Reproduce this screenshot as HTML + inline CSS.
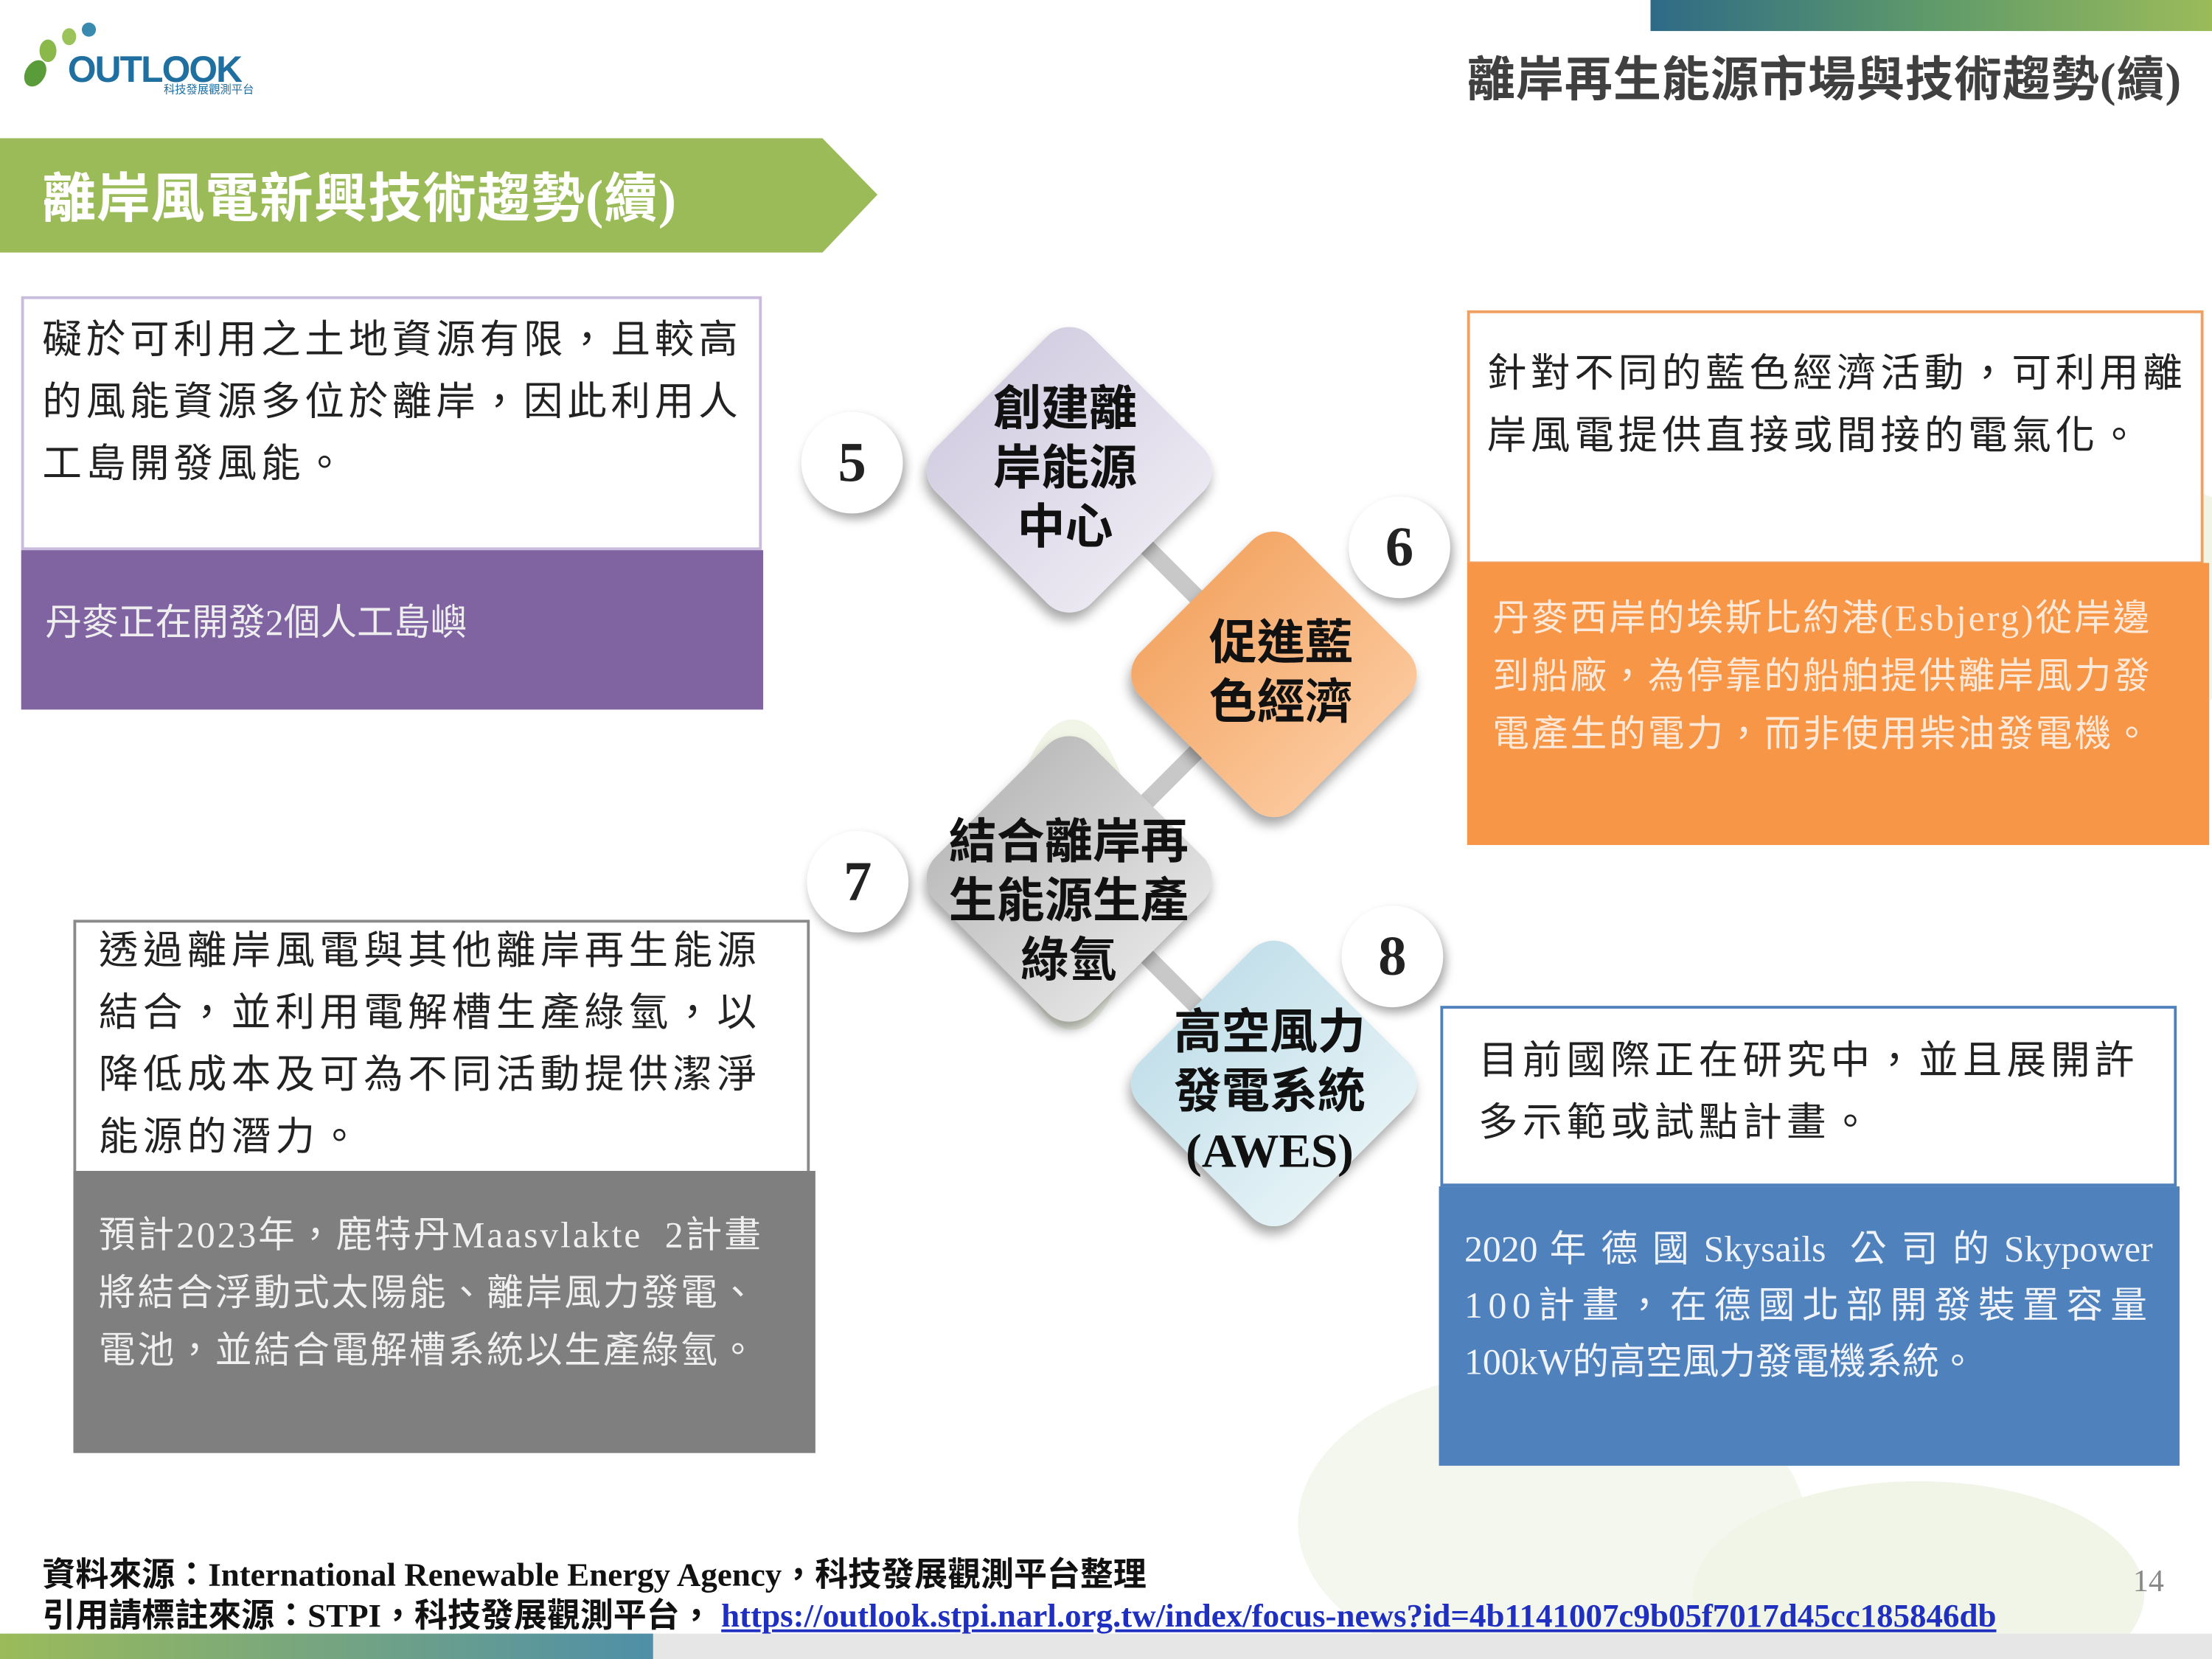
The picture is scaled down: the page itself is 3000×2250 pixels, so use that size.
<!DOCTYPE html>
<html><head><meta charset="utf-8">
<style>
html,body{margin:0;padding:0;background:#fff;}
body{width:3000px;height:2250px;overflow:hidden;position:relative;}
#w{position:absolute;left:0;top:0;width:1568px;height:1176px;transform:scale(1.91327,1.91327);transform-origin:0 0;font-family:"Liberation Serif","Noto Sans CJK TC",serif;}
.a{position:absolute;}
.t{font-family:"Liberation Serif","Noto Sans CJK TC",sans-serif;white-space:nowrap;}
.box{position:absolute;box-sizing:border-box;}
.dia{position:absolute;width:156px;height:156px;border-radius:22px;transform:rotate(45deg);box-shadow:3px 5px 8px rgba(0,0,0,0.35);}
.dt{position:absolute;text-align:center;font-weight:bold;font-size:34px;line-height:42px;color:#111;font-family:"Liberation Serif","Noto Sans CJK TC",sans-serif;white-space:nowrap;}
.num{position:absolute;width:72px;height:72px;border-radius:50%;background:#fff;box-shadow:2px 4px 7px rgba(0,0,0,0.35);text-align:center;line-height:72px;font-size:40px;font-weight:bold;color:#222;}
</style></head><body><div id="w">
<svg class="a" style="left:0;top:0" width="1568" height="1176">
<ellipse cx="1480" cy="450" rx="140" ry="90" fill="#f1f5e8" transform="rotate(-30 1480 450)"/>
<ellipse cx="760" cy="620" rx="45" ry="110" fill="#f1f5e8"/>
<ellipse cx="1100" cy="1080" rx="180" ry="110" fill="#f4f7ee"/>
<ellipse cx="1360" cy="1130" rx="160" ry="80" fill="#f1f5e8"/>
<line x1="758" y1="333" x2="903" y2="478" stroke="#c8c8c8" stroke-width="12"/>
<line x1="903" y1="478" x2="758" y2="623" stroke="#c8c8c8" stroke-width="12"/>
<line x1="758" y1="623" x2="903" y2="768" stroke="#c8c8c8" stroke-width="12"/>
</svg>
<div class="a" style="left:1170px;top:0;width:398px;height:22px;background:linear-gradient(90deg,#2e6a86,#5f9a6a,#9bbb59);"></div>
<div class="a" style="left:18px;top:14px;width:170px;height:60px;">
<div class="a" style="left:0;top:28px;width:14px;height:20px;border-radius:50%;background:#5a9c3a;transform:rotate(30deg)"></div>
<div class="a" style="left:10px;top:14px;width:12px;height:16px;border-radius:50%;background:#8ab84a;"></div>
<div class="a" style="left:26px;top:6px;width:10px;height:12px;border-radius:50%;background:#9bc35a;"></div>
<div class="a" style="left:40px;top:2px;width:10px;height:10px;border-radius:50%;background:#3a8ab0;"></div>
<div class="a" style="left:30px;top:20px;font-family:'Liberation Sans',sans-serif;font-weight:bold;font-size:26px;color:#1f6fa0;letter-spacing:-1px;">OUTLOOK</div>
<div class="a" style="left:98px;top:44px;font-size:8px;color:#1f6fa0;white-space:nowrap;">科技發展觀測平台</div>
</div>
<div class="a t" style="left:1040px;top:29px;font-size:34px;font-weight:bold;color:#404040;letter-spacing:0.5px;">離岸再生能源市場與技術趨勢(續)</div>
<svg class="a" style="left:0;top:98px" width="630" height="82"><polygon points="0,0 583,0 622,40 583,81 0,81" fill="#9bbb59"/></svg>
<div class="a t" style="left:30px;top:110px;font-size:38px;font-weight:bold;color:#fff;letter-spacing:0.5px;">離岸風電新興技術趨勢(續)</div>
<!-- box 5 -->
<div class="box" style="left:15px;top:210px;width:525px;height:180px;border:2px solid #c9bcdc;background:#fff;"></div>
<div class="a t" style="left:30px;top:220px;font-size:28px;line-height:44px;color:#222;letter-spacing:3px;">礙於可利用之土地資源有限，且較高<br>的風能資源多位於離岸，因此利用人<br>工島開發風能。</div>
<div class="box" style="left:15px;top:390px;width:526px;height:113px;background:#8064a2;"></div>
<div class="a t" style="left:32px;top:421px;font-size:26px;color:#eee;">丹麥正在開發2個人工島嶼</div>
<!-- box 6 -->
<div class="box" style="left:1040px;top:220px;width:522px;height:180px;border:2px solid #f0a060;background:#fff;"></div>
<div class="a t" style="left:1054px;top:244px;font-size:28px;line-height:44px;color:#222;letter-spacing:3px;">針對不同的藍色經濟活動，可利用離<br>岸風電提供直接或間接的電氣化。</div>
<div class="box" style="left:1040px;top:399px;width:526px;height:200px;background:#f79646;"></div>
<div class="a t" style="left:1058px;top:418px;font-size:26px;line-height:41px;color:#fde9d9;letter-spacing:1.5px;">丹麥西岸的埃斯比約港(Esbjerg)從岸邊<br>到船廠，為停靠的船舶提供離岸風力發<br>電產生的電力，而非使用柴油發電機。</div>
<!-- box 7 -->
<div class="box" style="left:52px;top:652px;width:522px;height:180px;border:2px solid #8a8a8a;background:#fff;"></div>
<div class="a t" style="left:70px;top:653px;font-size:28px;line-height:44px;color:#222;letter-spacing:3.3px;">透過離岸風電與其他離岸再生能源<br>結合，並利用電解槽生產綠氫，以<br>降低成本及可為不同活動提供潔淨<br>能源的潛力。</div>
<div class="box" style="left:52px;top:830px;width:526px;height:200px;background:#7f7f7f;"></div>
<div class="a t" style="left:70px;top:855px;font-size:26px;line-height:41px;color:#f0f0f0;letter-spacing:1.5px;">預計2023年，鹿特丹Maasvlakte&nbsp; 2計畫<br>將結合浮動式太陽能、離岸風力發電、<br>電池，並結合電解槽系統以生產綠氫。</div>
<!-- box 8 -->
<div class="box" style="left:1021px;top:713px;width:522px;height:128px;border:2px solid #4f81bd;background:#fff;"></div>
<div class="a t" style="left:1048px;top:731px;font-size:28px;line-height:44px;color:#222;letter-spacing:3.2px;">目前國際正在研究中，並且展開許<br>多示範或試點計畫。</div>
<div class="box" style="left:1020px;top:841px;width:525px;height:198px;background:#4f81bd;"></div>
<div class="a t" style="left:1038px;top:866px;font-size:26px;line-height:40px;color:#f0f4fa;">
<div style="width:488px;text-align:justify;text-align-last:justify;">2020 年 德 國 Skysails&nbsp; 公 司 的 Skypower</div>
<div style="width:488px;text-align:justify;text-align-last:justify;letter-spacing:4px;">100計畫，在德國北部開發裝置容量</div>
<div>100kW的高空風力發電機系統。</div>
</div>
<!-- diamonds -->
<div class="dia" style="left:680px;top:255px;background:linear-gradient(90deg,#d4cfe2,#ebe8f2);"></div>
<div class="dia" style="left:825px;top:400px;background:linear-gradient(90deg,#f4a868,#fbc79a);"></div>
<div class="dia" style="left:680px;top:545px;background:linear-gradient(90deg,#bdbdbd,#e2e2e2);"></div>
<div class="dia" style="left:825px;top:690px;background:linear-gradient(90deg,#c4e0ea,#e4f2f6);"></div>
<div class="dt" style="left:680px;top:270px;width:150px;">創建離<br>岸能源<br>中心</div>
<div class="dt" style="left:833px;top:436px;width:150px;">促進藍<br>色經濟</div>
<div class="dt" style="left:655px;top:577px;width:205px;">結合離岸再<br>生能源生產<br>綠氫</div>
<div class="dt" style="left:815px;top:712px;width:170px;">高空風力<br>發電系統<br>(AWES)</div>
<div class="num" style="left:568px;top:292px;">5</div>
<div class="num" style="left:956px;top:352px;">6</div>
<div class="num" style="left:572px;top:589px;">7</div>
<div class="num" style="left:951px;top:642px;">8</div>
<!-- footer -->
<div class="a" style="left:30px;top:1097px;font-size:23.5px;font-weight:bold;color:#111;white-space:nowrap;">資料來源：International Renewable Energy Agency，科技發展觀測平台整理</div>
<div class="a" style="left:30px;top:1126px;font-size:23.5px;font-weight:bold;color:#111;white-space:nowrap;">引用請標註來源：STPI，科技發展觀測平台，<span style="color:#1f2fbf;text-decoration:underline;margin-left:6px;">https://outlook.stpi.narl.org.tw/index/focus-news?id=4b1141007c9b05f7017d45cc185846db</span></div>
<div class="a" style="left:1512px;top:1108px;font-size:22px;color:#888;">14</div>
<div class="a" style="left:0;top:1158px;width:463px;height:18px;background:linear-gradient(90deg,#9bbb59,#4f8fa8);"></div>
<div class="a" style="left:463px;top:1158px;width:1105px;height:18px;background:#e6e6e6;"></div>
</div></body></html>
